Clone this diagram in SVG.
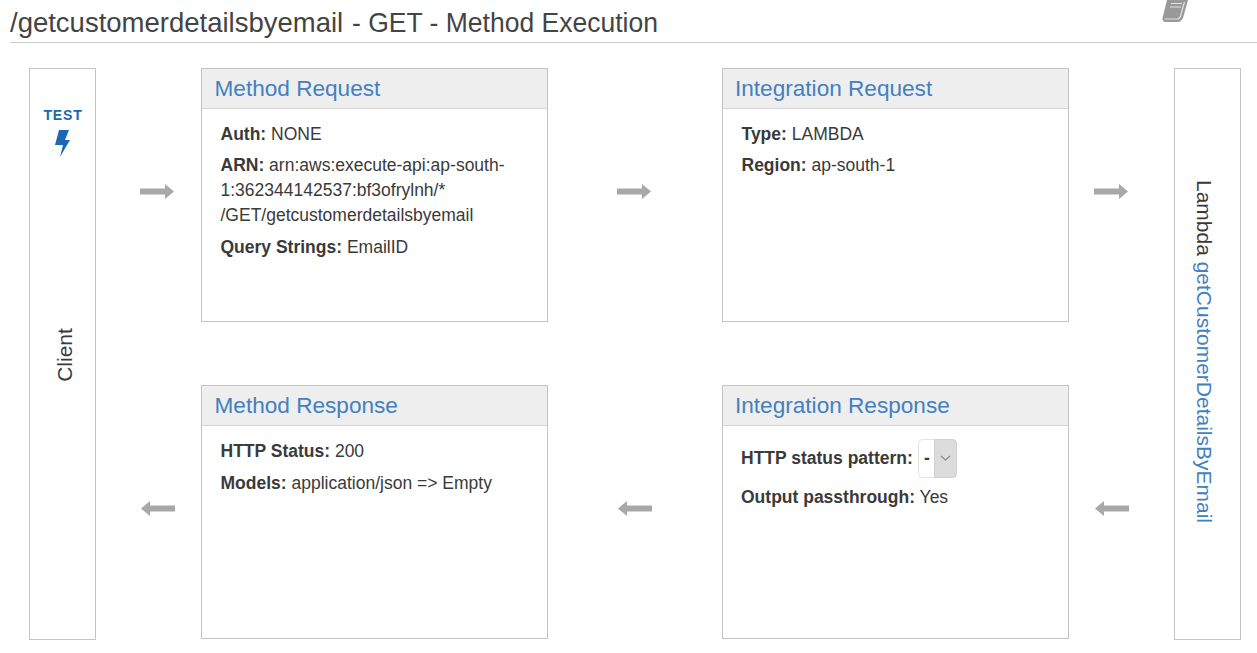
<svg xmlns="http://www.w3.org/2000/svg" width="1257" height="653" viewBox="0 0 1257 653">
<style>
text{font-family:"Liberation Sans",Arial,sans-serif;fill:#3a3a3a}
.box{fill:#fff;stroke:#c4c4c4;stroke-width:1}
.hd{fill:#eee}
.hl{stroke:#d4d4d4;stroke-width:1}
.t{font-size:22.6px;fill:#4480c0}
.b{font-size:17.5px}
.k{font-weight:700}
.arr{fill:#a8a8a8}
.link{fill:#4480c0}
.test{fill:#1c66b4}
.title{fill:#444;font-size:27.500px}
</style>
<defs>
<path id="r" d="M0-3H25V-7.500L34 0L25 7.500V3H0Z"/>
<path id="l" d="M34-3H9V-7.500L0 0L9 7.500V3H34Z"/>
</defs>
<rect width="1257" height="653" fill="#fff"/>
<g id="header">
<text class="title" y="32"><tspan x="10">/getcustomerdetailsbyemail</tspan> <tspan x="352" textLength="306" lengthAdjust="spacingAndGlyphs">- GET - Method Execution</tspan></text>
<line x1="10" y1="42.500" x2="1257" y2="42.500" stroke="#ccc"/>
<path fill="#999" d="M1167 0H1188L1183 18Q1181 22 1178 22H1165Q1161 21 1163 16Z"/>
<path fill="none" stroke="#e2e2e2" stroke-width="1.200" d="M1171 3.500H1182M1170 7H1181M1164.500 19H1177.500Q1179.500 19 1180.500 16L1184.500 2"/>
</g>
<g id="client">
<rect class="box" x="29.500" y="68.500" width="66" height="571"/>
<text class="test" x="63" y="119.500" font-size="14" font-weight="700" text-anchor="middle" letter-spacing="0.800">TEST</text>
<path class="test" d="M59 130H69L65 140H70L60 157L63 145H55Z"/>
<text transform="translate(72 355) rotate(-90)" font-size="21" text-anchor="middle">Client</text>
</g>
<g id="method-request">
<rect class="box" x="201.500" y="68.500" width="346" height="253"/>
<rect class="hd" x="202" y="69" width="345" height="39"/>
<line class="hl" x1="202" y1="108.500" x2="547" y2="108.500"/>
<text class="t" x="214.500" y="95.500">Method Request</text>
<text class="b" x="220.500" y="140"><tspan class="k">Auth:</tspan> NONE</text>
<text class="b" x="220.500" y="171"><tspan class="k">ARN:</tspan> arn:aws:execute-api:ap-south-</text>
<text class="b" x="220.500" y="196">1:362344142537:bf3ofrylnh/*</text>
<text class="b" x="220.500" y="221">/GET/getcustomerdetailsbyemail</text>
<text class="b" x="220.500" y="253"><tspan class="k">Query Strings:</tspan> EmailID</text>
</g>
<g id="integration-request">
<rect class="box" x="722.500" y="68.500" width="346" height="253"/>
<rect class="hd" x="723" y="69" width="345" height="39"/>
<line class="hl" x1="723" y1="108.500" x2="1068" y2="108.500"/>
<text class="t" x="735" y="95.500">Integration Request</text>
<text class="b" x="741.500" y="140"><tspan class="k">Type:</tspan> LAMBDA</text>
<text class="b" x="741.500" y="171"><tspan class="k">Region:</tspan> ap-south-1</text>
</g>
<g id="method-response">
<rect class="box" x="201.500" y="385.500" width="346" height="253"/>
<rect class="hd" x="202" y="386" width="345" height="39"/>
<line class="hl" x1="202" y1="425.500" x2="547" y2="425.500"/>
<text class="t" x="214.500" y="412.500">Method Response</text>
<text class="b" x="220.500" y="457"><tspan class="k">HTTP Status:</tspan> 200</text>
<text class="b" x="220.500" y="489"><tspan class="k">Models:</tspan> application/json =&gt; Empty</text>
</g>
<g id="integration-response">
<rect class="box" x="722.500" y="385.500" width="346" height="253"/>
<rect class="hd" x="723" y="386" width="345" height="39"/>
<line class="hl" x1="723" y1="425.500" x2="1068" y2="425.500"/>
<text class="t" x="735" y="412.500">Integration Response</text>
<text class="b k" x="741" y="464">HTTP status pattern:</text>
<rect x="918.500" y="439.500" width="38" height="38" rx="4" fill="#fff" stroke="#e4e4e4"/>
<path d="M934.500 439.500H952.500Q956.500 439.500 956.500 443.500V473.500Q956.500 477.500 952.500 477.500H934.500Z" fill="#dcdcdc" stroke="#d0d0d0"/>
<text class="b k" x="924" y="464">-</text>
<path d="M941 456L945.500 460L950 456" fill="none" stroke="#888" stroke-width="1.200"/>
<text class="b" x="741" y="503"><tspan class="k">Output passthrough:</tspan> Yes</text>
</g>
<g id="lambda">
<rect class="box" x="1174.500" y="68.500" width="66" height="571"/>
<text transform="translate(1197 180) rotate(90)" font-size="21" textLength="343" lengthAdjust="spacingAndGlyphs">Lambda <tspan class="link">getCustomerDetailsByEmail</tspan></text>
</g>
<g id="connectors" class="arr">
<use href="#r" x="140" y="191.500"/>
<use href="#r" x="617" y="191.500"/>
<use href="#r" x="1094" y="191.500"/>
<use href="#l" x="141" y="508.500"/>
<use href="#l" x="618" y="508.500"/>
<use href="#l" x="1095" y="508.500"/>
</g>
</svg>
